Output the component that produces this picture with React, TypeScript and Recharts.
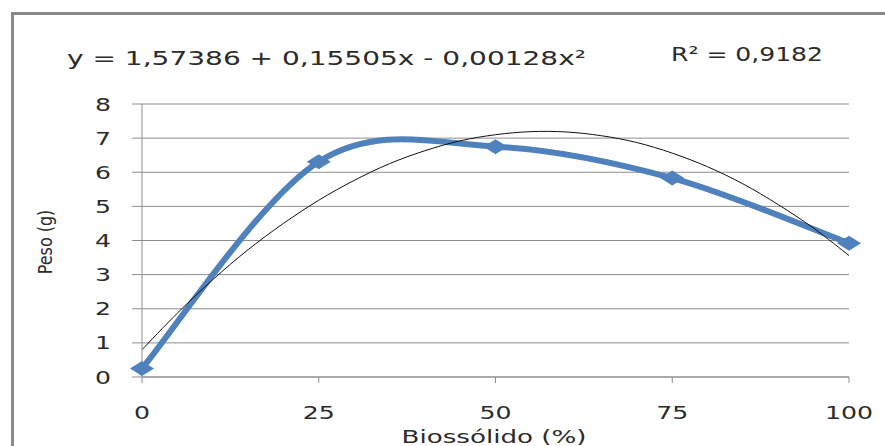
import React from "react";
import { LineChart, Line, XAxis, YAxis, CartesianGrid, Customized } from "recharts";

// ---- data ----
const xCategories = [0, 25, 50, 75, 100];
const pesoValues = [0.25, 6.31, 6.75, 5.83, 3.92];
const trendX = [0, 5, 10, 15, 20, 25, 30, 35, 40, 45, 50, 55, 60, 65, 70, 75, 80, 85, 90, 95, 100];
const trendValues = [0.8, 1.87, 2.85, 3.73, 4.5, 5.18, 5.76, 6.25, 6.63, 6.92, 7.1, 7.19, 7.18, 7.07, 6.87, 6.56, 6.16, 5.66, 5.05, 4.36, 3.56];
const yTicks = [0, 1, 2, 3, 4, 5, 6, 7, 8];
const xTicks = [0, 25, 50, 75, 100];
const equationText = "y = 1,57386 + 0,15505x - 0,00128x²";
const r2Text = "R² = 0,9182";
const xLabel = "Biossólido (%)";
const yLabel = "Peso (g)";

const tableData = trendX.map((x, i) => {
  const k = xCategories.indexOf(x);
  return { x, trend: trendValues[i], peso: k >= 0 ? pesoValues[k] : null };
});

const FONT = "'DejaVu Sans', sans-serif";
const TEXT = "#2b2b2b";
const GRID = "#8e8e8e";
const BLUE = "#4F81BD";
const SX = 1.4;

// Excel-like smoothing (Catmull-Rom as cubic Bezier)
function excelCurve(context: any) {
  let xs: number[] = [];
  let ys: number[] = [];
  return {
    areaStart() {},
    areaEnd() {},
    lineStart() {
      xs = [];
      ys = [];
    },
    lineEnd() {
      const n = xs.length;
      if (!n) return;
      context.moveTo(xs[0], ys[0]);
      for (let i = 0; i < n - 1; i++) {
        const i0 = Math.max(i - 1, 0);
        const i3 = Math.min(i + 2, n - 1);
        const c1x = xs[i] + (xs[i + 1] - xs[i0]) / 6;
        const c1y = ys[i] + (ys[i + 1] - ys[i0]) / 6;
        const c2x = xs[i + 1] - (xs[i3] - xs[i]) / 6;
        const c2y = ys[i + 1] - (ys[i3] - ys[i]) / 6;
        context.bezierCurveTo(c1x, c1y, c2x, c2y, xs[i + 1], ys[i + 1]);
      }
    },
    point(x: number, y: number) {
      xs.push(+x);
      ys.push(+y);
    },
  };
}

const Diamond = (props: any) => {
  const { cx, cy } = props;
  if (cx == null || cy == null || props.value == null) return <g />;
  const w = 12;
  const h = 7.5;
  return (
    <polygon
      points={`${cx - w},${cy} ${cx},${cy - h} ${cx + w},${cy} ${cx},${cy + h}`}
      fill={BLUE}
      stroke="none"
    />
  );
};

const XTick = (props: any) => {
  const { x, y, payload } = props;
  return (
    <g transform={`translate(${x},${y}) scale(${SX},1)`}>
      <text x={0} y={36} textAnchor="middle" fontFamily={FONT} fontSize={18} fill={TEXT}>
        {payload.value}
      </text>
    </g>
  );
};

const YTick = (props: any) => {
  const { x, y, payload } = props;
  return (
    <g transform={`translate(${x},${y}) scale(${SX},1)`}>
      <text x={0} y={6.5} textAnchor="end" fontFamily={FONT} fontSize={18} fill={TEXT}>
        {payload.value}
      </text>
    </g>
  );
};

const Texts = () => (
  <g>
    <text
      x={67}
      y={65}
      fontFamily={FONT}
      fontSize={20}
      fill={TEXT}
      textLength={519}
      lengthAdjust="spacingAndGlyphs"
    >
      {equationText}
    </text>
    <text
      x={671}
      y={61}
      fontFamily={FONT}
      fontSize={19.5}
      fill={TEXT}
      textLength={152}
      lengthAdjust="spacingAndGlyphs"
    >
      {r2Text}
    </text>
    <text
      x={494 - 92.5}
      y={443}
      fontFamily={FONT}
      fontSize={18}
      fill={TEXT}
      textLength={185}
      lengthAdjust="spacingAndGlyphs"
    >
      {xLabel}
    </text>
    <g transform={`translate(52,242) scale(1.2,1) rotate(-90)`}>
      <text x={0} y={0} textAnchor="middle" fontFamily={FONT} fontSize={16} fill={TEXT}>
        {yLabel}
      </text>
    </g>
  </g>
);

export default function App() {
  return (
    <div
      style={{
        position: "absolute",
        left: 0,
        top: 0,
        width: 885,
        height: 446,
        overflow: "hidden",
        background: "#ffffff",
      }}
    >
      <div
        style={{
          position: "absolute",
          left: 11,
          top: 12,
          width: 1000,
          height: 1000,
          borderLeft: "3px solid #8a8a8a",
          borderTop: "3px solid #8a8a8a",
        }}
      />
      <div style={{ position: "absolute", left: 0, top: 0 }}>
        <LineChart
          width={885}
          height={446}
          data={tableData}
          margin={{ top: 104, right: 36, bottom: 29, left: 0 }}
        >
          <CartesianGrid vertical={false} stroke={GRID} strokeWidth={1} />
          <XAxis
            type="number"
            dataKey="x"
            domain={[0, 100]}
            ticks={xTicks}
            height={40}
            tickSize={6}
            tickMargin={0}
            axisLine={{ stroke: GRID }}
            tickLine={{ stroke: GRID }}
            tick={<XTick />}
            interval={0}
          />
          <YAxis
            type="number"
            domain={[0, 8]}
            ticks={yTicks}
            width={142}
            tickSize={10}
            tickMargin={21}
            axisLine={{ stroke: GRID }}
            tickLine={{ stroke: GRID }}
            tick={<YTick />}
            interval={0}
          />
          <Line
            dataKey="peso"
            type={excelCurve as any}
            stroke={BLUE}
            strokeWidth={6}
            connectNulls
            dot={<Diamond />}
            activeDot={false}
            isAnimationActive={false}
          />
          <Line
            dataKey="trend"
            type={excelCurve as any}
            stroke="#111111"
            strokeWidth={1}
            dot={false}
            activeDot={false}
            isAnimationActive={false}
          />
          <Customized component={Texts} />
        </LineChart>
      </div>
    </div>
  );
}
